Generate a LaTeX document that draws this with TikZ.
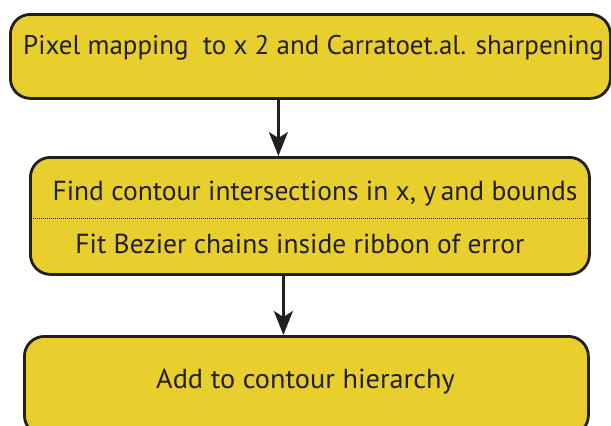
\documentclass[tikz,border=0pt]{standalone}
\usepackage{fontspec}
\setmainfont{PT Sans}
\usetikzlibrary{arrows.meta}
\definecolor{boxyellow}{RGB}{232,207,45}
\definecolor{ink}{RGB}{35,31,32}
\begin{document}
\begin{tikzpicture}[x=1pt,y=-1pt,
  stepbox/.style={draw=ink, line width=2.8pt, fill=boxyellow, rounded corners=20pt, inner sep=0pt},
  lbl/.style={anchor=base, inner sep=0pt, font=\fontsize{27.5}{32}\selectfont, text=ink},
  flow/.style={draw=ink, line width=2.2pt, -{Stealth[length=24pt,width=19pt,inset=6pt]}},
  dotline/.style={draw=ink, line width=1.4pt, dash pattern=on 1pt off 1pt}]
\useasboundingbox (0,0) rectangle (611,426);
\begin{scope}
\clip (0,0) rectangle (611,426);
\node[stepbox, minimum width=600pt, minimum height=84pt, anchor=north west] (b1) at (9,13) {};
\node[stepbox, minimum width=559pt, minimum height=117pt, anchor=north west] (b2) at (29,156) {};
\node[stepbox, minimum width=564pt, minimum height=99pt, anchor=north west] (b3) at (23,335) {};
\draw[dotline] ([yshift=-2.5pt]b2.west) -- ([yshift=-2.5pt]b2.east);
\node[lbl, anchor=base west, font=\fontsize{27}{32}\selectfont] (t1) at (23,54) {Pixel mapping\ \ to x 2 and Carratoet.al. sharpening};
\node[lbl] (t2) at (315,200) {Find contour intersections in x, y\,and bounds};
\node[lbl] (t3) at (300,253) {Fit Bezier chains inside ribbon of error};
\node[lbl] (t4) at (305.5,388) {\addfontfeatures{FakeStretch=1.03}Add to contour hierarchy};
\draw[flow] ([xshift=-32pt]b1.south) -- ([xshift=-31.5pt]b2.north);
\draw[flow] ([xshift=-26.5pt]b2.south) -- ([xshift=-23pt]b3.north);
\end{scope}
\end{tikzpicture}
\end{document}
